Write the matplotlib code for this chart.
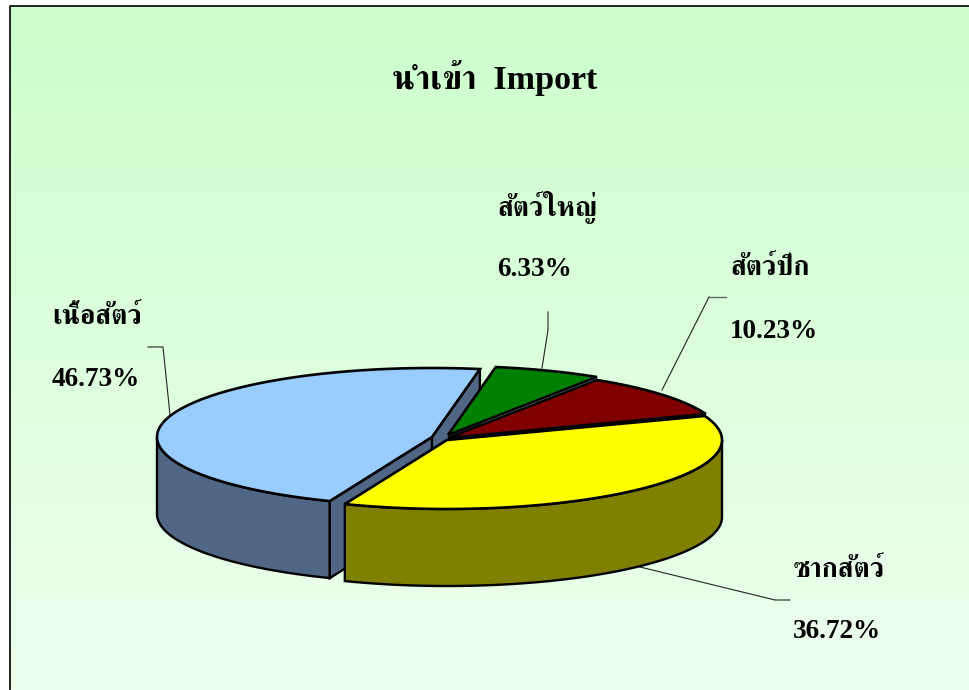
import matplotlib
matplotlib.use("Agg")
import matplotlib.pyplot as plt
import numpy as np
from matplotlib.colors import LinearSegmentedColormap
from matplotlib.patches import Polygon

title = "นำเข้า  Import"
labels = ["สัตว์ใหญ่", "สัตว์ปีก", "ซากสัตว์", "เนื้อสัตว์"]
shares = [6.33, 10.23, 36.72, 46.73]
top_colors = ["#008000", "#800000", "#ffff00", "#99ccff"]
side_colors = ["#004000", "#400000", "#808000", "#4f6785"]

fig = plt.figure(figsize=(9.69, 6.90), dpi=100)
ax = fig.add_axes([0, 0, 1, 1])
ax.axis("off")

bg = LinearSegmentedColormap.from_list("bg", ["#ccffcc", "#edffed"])
ax.imshow(np.linspace(0, 1, 256).reshape(-1, 1), cmap=bg, extent=(10, 969, 690, 6),
          aspect="auto", zorder=0)
ax.set_xlim(0, 969)
ax.set_ylim(690, 0)
ax.plot([10, 10, 969], [690, 6, 6], color="black", lw=1.2, zorder=1)

cx, cy = 445, 437
rx, ry = 275, 69
depth = 77
offsets = [(3, -2), (3, 1), (2, 3), (-13, 0)]
layers = [4, 5, 6, 2]

start = np.radians(80.0)
for i, share in enumerate(shares):
    sweep = np.radians(share * 3.6)
    t = np.linspace(start, start - sweep, 200)
    ox, oy = offsets[i]
    x = cx + ox + rx * np.cos(t)
    y = cy + oy - ry * np.sin(t)
    mx, my = cx + ox, cy + oy
    z = layers[i]
    # outer wall, only the front half shows
    front = np.sin(t) <= 0
    if front.any():
        xf, yf = x[front], y[front]
        wall = np.column_stack([np.r_[xf, xf[::-1]], np.r_[yf, yf[::-1] + depth]])
        ax.add_patch(Polygon(wall, fc=side_colors[i], ec="black", lw=1.7, zorder=z))
    # cut faces of the pulled out slice
    if i == 3:
        for k in (0, -1):
            face = [(x[k], y[k]), (mx, my), (mx, my + depth), (x[k], y[k] + depth)]
            ax.add_patch(Polygon(face, fc=side_colors[i], ec="black", lw=1.7, zorder=z))
    ax.add_patch(Polygon(np.column_stack([np.r_[mx, x], np.r_[my, y]]),
                         fc=top_colors[i], ec="black", lw=1.9, zorder=z + (1 if i == 3 else 5)))
    start -= sweep

# leader lines
ax.plot([548, 548, 542], [312, 330, 368], color="#222222", lw=0.8, zorder=1)
ax.plot([709, 662], [297, 390], color="#222222", lw=0.8, zorder=1)
ax.plot([709, 726], [297, 297], color="#666666", lw=1.0, zorder=1)
ax.plot([148, 163, 170], [347, 347, 415], color="#222222", lw=0.8, zorder=1)
ax.plot([640, 775, 790], [567, 600, 600], color="#222222", lw=0.8, zorder=1)

# liberation for the latin and digits, freeserif picks up the thai
text_style = dict(family=["Liberation Serif", "FreeSerif"], fontweight="bold",
                  color="black", va="center", zorder=20)
ax.text(495, 78, title, ha="center", fontsize=24.5, **text_style)
spots = [(497, 207, 269), (730, 268, 331), (793, 570, 631), (52, 317, 379)]
for name, share, (lx, y1, y2) in zip(labels, shares, spots):
    ax.text(lx, y1, name, ha="left", fontsize=19.6, **text_style)
    ax.text(lx, y2, f"{share:.2f}%", ha="left", fontsize=19.6, **text_style)

fig.savefig("out.png", dpi=100)
